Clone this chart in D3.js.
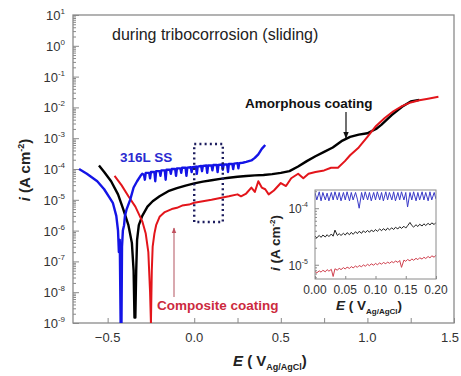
<!DOCTYPE html>
<html>
<head>
<meta charset="utf-8">
<script src="https://cdn.jsdelivr.net/npm/d3@7"></script>
<style>
  body { margin: 0; background: #fff; }
  svg { font-family: "Liberation Sans", Arial, sans-serif; }
</style>
</head>
<body>
<div id="display"></div>
<script>
const w = 461;
const h = 376;

// main plot data: [E (V), i (A cm^-2)]
const ss316 = [
    [-0.665, 1.0e-4], [-0.62, 7e-5], [-0.56, 4e-5], [-0.52, 2.2e-5], [-0.49, 1.2e-5], [-0.47, 8e-6],
    [-0.45, 3e-6], [-0.44, 1e-6], [-0.435, 2e-7], [-0.43, 5e-7], [-0.425, 1e-9], [-0.42, 1e-9],
    [-0.417, 3e-7], [-0.412, 1e-6], [-0.405, 1.5e-6], [-0.40, 3e-6], [-0.39, 5e-6], [-0.37, 1e-5],
    [-0.35, 2.5e-5], [-0.33, 4e-5], [-0.31, 6e-5], [-0.30, 7e-5], [-0.29, 6.5e-5], [-0.285, 4.5e-5],
    [-0.28, 7.5e-5], [-0.26, 7.5e-5], [-0.255, 5e-5], [-0.25, 8e-5], [-0.23, 8e-5], [-0.225, 4e-5],
    [-0.22, 8.5e-5], [-0.20, 8.5e-5], [-0.195, 6e-5], [-0.19, 9e-5], [-0.17, 9e-5], [-0.165, 4.5e-5],
    [-0.16, 9.5e-5], [-0.14, 9.5e-5], [-0.135, 7e-5], [-0.13, 1e-4], [-0.11, 1e-4], [-0.105, 6e-5],
    [-0.10, 1.05e-4], [-0.08, 1.05e-4], [-0.075, 7.5e-5], [-0.07, 1.1e-4], [-0.05, 1.1e-4], [-0.045, 6e-5],
    [-0.04, 1.1e-4], [-0.02, 1.15e-4], [-0.015, 8e-5], [-0.01, 1.15e-4], [0.01, 1.2e-4], [0.015, 7e-5],
    [0.02, 1.2e-4], [0.04, 1.25e-4], [0.045, 8.5e-5], [0.05, 1.25e-4], [0.07, 1.3e-4], [0.075, 7.5e-5],
    [0.08, 1.3e-4], [0.10, 1.3e-4], [0.105, 9e-5], [0.11, 1.35e-4], [0.13, 1.35e-4], [0.135, 8e-5],
    [0.14, 1.35e-4], [0.16, 1.4e-4], [0.165, 9.5e-5], [0.17, 1.4e-4], [0.19, 1.4e-4], [0.195, 8e-5],
    [0.20, 1.45e-4], [0.22, 1.45e-4], [0.225, 1e-4], [0.23, 1.5e-4], [0.25, 1.55e-4], [0.255, 1.05e-4],
    [0.26, 1.55e-4], [0.28, 1.6e-4], [0.3, 1.7e-4], [0.33, 1.9e-4], [0.35, 2.3e-4], [0.37, 3e-4],
    [0.39, 4.5e-4], [0.41, 6e-4]
];
const amorphous = [
    [-0.55, 1.3e-4], [-0.52, 8e-5], [-0.48, 4e-5], [-0.44, 1.5e-5], [-0.41, 5e-6], [-0.38, 1.5e-6],
    [-0.36, 4e-7], [-0.35, 5e-8], [-0.345, 1.5e-9], [-0.34, 1.5e-9], [-0.335, 5e-8], [-0.33, 5e-7],
    [-0.32, 1.5e-6], [-0.30, 3e-6], [-0.27, 6e-6], [-0.24, 9e-6], [-0.2, 1.3e-5], [-0.15, 1.9e-5],
    [-0.1, 2.4e-5], [-0.05, 2.9e-5], [0.0, 3.4e-5], [0.05, 3.9e-5], [0.1, 4.3e-5], [0.15, 4.8e-5],
    [0.2, 5.2e-5], [0.25, 5.6e-5], [0.3, 5.9e-5], [0.35, 6.2e-5], [0.4, 6.4e-5], [0.45, 6.8e-5],
    [0.5, 7.5e-5], [0.55, 8.5e-5], [0.6, 1.2e-4], [0.65, 1.8e-4], [0.7, 2.6e-4], [0.75, 3.6e-4],
    [0.8, 5e-4], [0.85, 8e-4], [0.9, 1.1e-3], [0.95, 1.3e-3], [1.0, 1.45e-3], [1.05, 2e-3],
    [1.08, 2.7e-3], [1.14, 5.6e-3], [1.2, 1.05e-2], [1.25, 1.55e-2], [1.3, 1.75e-2]
];
const composite = [
    [-0.46, 6e-5], [-0.42, 3e-5], [-0.38, 1.3e-5], [-0.34, 6e-6], [-0.30, 2e-6], [-0.28, 8e-7],
    [-0.265, 2e-7], [-0.255, 1e-8], [-0.25, 1e-9], [-0.245, 5e-8], [-0.24, 3e-7], [-0.23, 8e-7],
    [-0.22, 1.5e-6], [-0.2, 2.8e-6], [-0.17, 4e-6], [-0.13, 5e-6], [-0.1, 5.5e-6], [-0.07, 6.5e-6],
    [-0.03, 7e-6], [0.0, 8e-6], [0.05, 9e-6], [0.1, 1.0e-5], [0.15, 1.15e-5], [0.2, 1.3e-5],
    [0.25, 1.5e-5], [0.27, 1.3e-5], [0.3, 1.6e-5], [0.33, 2.5e-5], [0.35, 1.8e-5], [0.37, 4e-5],
    [0.39, 2.5e-5], [0.41, 2.2e-5], [0.43, 1.5e-5], [0.46, 2e-5], [0.5, 3.5e-5], [0.53, 2.8e-5],
    [0.56, 5e-5], [0.6, 7e-5], [0.63, 5e-5], [0.66, 7e-5], [0.7, 8e-5], [0.75, 9e-5],
    [0.79, 1.1e-4], [0.83, 1.1e-4], [0.87, 1.8e-4], [0.9, 2.8e-4], [0.95, 5e-4], [1.0, 1.1e-3],
    [1.05, 2.5e-3], [1.1, 4.5e-3], [1.15, 7.5e-3], [1.2, 1.1e-2], [1.25, 1.45e-2], [1.3, 1.7e-2],
    [1.35, 1.9e-2], [1.41, 2.2e-2]
];

// inset data (zoom of 0.00 - 0.20 V)
const insetE = [0.000, 0.003, 0.007, 0.010, 0.013, 0.017, 0.020, 0.023, 0.027, 0.030,
    0.033, 0.037, 0.040, 0.043, 0.047, 0.050, 0.053, 0.057, 0.060, 0.063,
    0.067, 0.070, 0.073, 0.077, 0.080, 0.083, 0.087, 0.090, 0.093, 0.097,
    0.100, 0.103, 0.107, 0.110, 0.113, 0.117, 0.120, 0.123, 0.127, 0.130,
    0.133, 0.137, 0.140, 0.143, 0.147, 0.150, 0.153, 0.157, 0.160, 0.163,
    0.167, 0.170, 0.173, 0.177, 0.180, 0.183, 0.187, 0.190, 0.193, 0.197, 0.200];
// i in units of 1e-4
const insetSS = [1.9, 1.4, 1.95, 1.35, 1.9, 1.4, 1.85, 1.35, 1.9, 1.4,
    1.95, 1.4, 1.9, 1.35, 1.9, 1.4, 1.95, 1.35, 1.9, 1.4,
    1.9, 1.45, 1.0, 1.9, 1.4, 1.95, 1.4, 1.9, 1.35, 1.9,
    1.4, 1.95, 1.4, 1.9, 1.35, 1.95, 1.4, 1.9, 1.4, 1.95,
    1.35, 1.9, 1.4, 1.95, 1.4, 1.9, 1.05, 1.9, 1.4, 1.95,
    1.35, 1.9, 1.4, 1.95, 1.4, 1.9, 1.35, 1.95, 1.4, 1.9, 1.45];
// i in units of 1e-5
const insetAm = [3.2, 3.0, 3.3, 3.05, 3.35, 3.1, 3.4, 3.15, 3.5, 3.2,
    4.1, 3.3, 3.55, 3.3, 3.6, 3.35, 3.7, 3.4, 3.75, 3.45,
    3.85, 3.55, 3.9, 3.6, 4.0, 3.7, 4.05, 3.75, 4.1, 3.85,
    4.2, 3.9, 4.3, 4.0, 4.35, 4.05, 4.45, 4.15, 4.5, 4.2,
    4.6, 4.3, 4.7, 4.4, 4.8, 4.45, 4.9, 5.6, 4.95, 4.65,
    5.1, 4.75, 5.2, 4.85, 5.3, 4.95, 5.4, 5.05, 5.5, 5.15, 5.6];
// i in units of 1e-5
const insetComp = [0.76, 0.72, 0.78, 0.74, 0.8, 0.75, 0.82, 0.77, 0.83, 0.62,
    0.85, 0.8, 0.87, 0.82, 0.89, 0.84, 0.91, 0.86, 0.93, 0.88,
    0.95, 0.9, 0.97, 0.92, 1.0, 0.94, 1.02, 0.96, 1.04, 0.98,
    1.06, 1.0, 1.08, 1.02, 1.1, 1.04, 1.12, 1.06, 1.14, 1.08,
    1.17, 1.1, 1.19, 0.9, 1.21, 1.15, 1.24, 1.17, 1.27, 1.2,
    1.3, 1.23, 1.33, 1.26, 1.36, 1.29, 1.4, 1.32, 1.44, 1.36, 1.48];

const yTickExp = [1, 0, -1, -2, -3, -4, -5, -6, -7, -8, -9];
const xTickLabels = [-0.5, 0.0, 0.5, 1.0, 1.5];
const insetXTicks = [0.00, 0.05, 0.10, 0.15, 0.20];
const insetYTickExp = [-4, -5];

const margin = { left: 73, right: 454, top: 15, bottom: 323 };
const inset = { left: 315, right: 436, top: 190, bottom: 279 };
const axisColor = '#8a8a8a';

const viz = d3.select('#display').append('svg')
    .attr('width', w)
    .attr('height', h);

const xScale = d3.scaleLinear().domain([-0.7, 1.5]).range([margin.left, margin.right]);
const yScale = d3.scaleLog().domain([1e-9, 10]).range([margin.bottom, margin.top]);

// clip
viz.append('defs').append('clipPath').attr('id', 'clip')
    .append('rect')
    .attr('x', margin.left).attr('y', margin.top)
    .attr('width', margin.right - margin.left).attr('height', margin.bottom - margin.top);

// ticks: y major + minor (inward)
const yAxisG = viz.append('g');
const minorY = [];
for (let e = -9; e < 1; e++) {
    for (let m = 2; m <= 9; m++) minorY.push(m * Math.pow(10, e));
}
yAxisG.call(d3.axisRight(yScale).tickValues(minorY).tickSize(3).tickFormat(''))
    .attr('transform', `translate(${margin.left},0)`);
yAxisG.selectAll('line').attr('stroke', axisColor);
yAxisG.select('.domain').remove();

const yMajorG = viz.append('g').attr('transform', `translate(${margin.left},0)`)
    .call(d3.axisRight(yScale).tickValues(yTickExp.map(e => Math.pow(10, e))).tickSize(6).tickFormat(''));
yMajorG.selectAll('line').attr('stroke', axisColor);
yMajorG.select('.domain').remove();

// y tick labels with superscripts
yTickExp.forEach(e => {
    const t = viz.append('text')
        .attr('x', 65)
        .attr('y', yScale(Math.pow(10, e)) + 5)
        .attr('text-anchor', 'end')
        .style('font-size', '13px')
        .style('fill', '#333');
    t.append('tspan').text('10');
    t.append('tspan').attr('dy', -6).style('font-size', '8px').text(String(e));
});

// x ticks
const xTickVals = d3.range(-0.5, 1.51, 0.25);
const xAxisG = viz.append('g').attr('transform', `translate(0,${margin.bottom})`)
    .call(d3.axisTop(xScale).tickValues(xTickVals).tickSize(5).tickFormat(''));
xAxisG.selectAll('line').attr('stroke', axisColor);
xAxisG.select('.domain').remove();

xTickLabels.forEach(v => {
    viz.append('text')
        .attr('x', Math.min(xScale(v), 450))
        .attr('y', 342)
        .attr('text-anchor', 'middle')
        .style('font-size', '13px')
        .style('fill', '#333')
        .text(d3.format('.1f')(v));
});

// frame
viz.append('rect')
    .attr('x', margin.left).attr('y', margin.top)
    .attr('width', margin.right - margin.left).attr('height', margin.bottom - margin.top)
    .attr('fill', 'none').attr('stroke', axisColor).attr('stroke-width', 1.3);

// curves
const line = d3.line().x(d => xScale(d[0])).y(d => yScale(d[1]));
const curves = viz.append('g').attr('clip-path', 'url(#clip)');
curves.append('path').datum(amorphous).attr('d', line)
    .attr('fill', 'none').attr('stroke', '#000').attr('stroke-width', 2.4).attr('stroke-linejoin', 'round');
curves.append('path').datum(composite).attr('d', line)
    .attr('fill', 'none').attr('stroke', '#e3151b').attr('stroke-width', 2).attr('stroke-linejoin', 'round');
curves.append('path').datum(ss316).attr('d', line)
    .attr('fill', 'none').attr('stroke', '#1414e6').attr('stroke-width', 2.4).attr('stroke-linejoin', 'round');

// dotted box
viz.append('rect')
    .attr('x', xScale(0.0)).attr('y', 144)
    .attr('width', xScale(0.165) - xScale(0.0)).attr('height', 78)
    .attr('fill', 'none').attr('stroke', '#1c1c5e').attr('stroke-width', 2.4)
    .attr('stroke-dasharray', '2,3.2');

// annotations
viz.append('text').attr('x', 112).attr('y', 40)
    .style('font-size', '16px').style('fill', '#222')
    .text('during tribocorrosion (sliding)');

viz.append('text').attr('x', 120).attr('y', 162)
    .style('font-size', '13.5px').style('font-weight', 'bold').style('fill', '#2a2ad0')
    .text('316L SS');

viz.append('text').attr('x', 245).attr('y', 108)
    .style('font-size', '13.5px').style('font-weight', 'bold').style('fill', '#111')
    .text('Amorphous coating');

viz.append('text').attr('x', 157).attr('y', 310)
    .style('font-size', '13.5px').style('font-weight', 'bold').style('fill', '#cc2a3e')
    .text('Composite coating');

const defs = viz.select('defs');
defs.append('marker').attr('id', 'arrK').attr('viewBox', '0 0 10 10')
    .attr('refX', 9).attr('refY', 5).attr('markerWidth', 6).attr('markerHeight', 6)
    .attr('orient', 'auto-start-reverse')
    .append('path').attr('d', 'M0,1L10,5L0,9z').attr('fill', '#111');
defs.append('marker').attr('id', 'arrR').attr('viewBox', '0 0 10 10')
    .attr('refX', 9).attr('refY', 5).attr('markerWidth', 5).attr('markerHeight', 5)
    .attr('orient', 'auto-start-reverse')
    .append('path').attr('d', 'M0,1L10,5L0,9z').attr('fill', '#c0505e');

viz.append('line').attr('x1', 346).attr('y1', 112).attr('x2', 346).attr('y2', 138)
    .attr('stroke', '#111').attr('stroke-width', 1.2).attr('marker-end', 'url(#arrK)');
viz.append('line').attr('x1', 174).attr('y1', 297).attr('x2', 174).attr('y2', 228)
    .attr('stroke', '#c0707a').attr('stroke-width', 1.2).attr('marker-end', 'url(#arrR)');

// axis titles
const yTitle = viz.append('text')
    .attr('transform', `translate(30,170) rotate(-90)`)
    .attr('text-anchor', 'middle')
    .style('font-size', '15px').style('font-weight', 'bold').style('fill', '#222');
yTitle.append('tspan').style('font-style', 'italic').text('i');
yTitle.append('tspan').text(' (A cm');
yTitle.append('tspan').attr('dy', -6).style('font-size', '9px').text('-2');
yTitle.append('tspan').attr('dy', 6).text(')');

const xTitle = viz.append('text')
    .attr('x', 233).attr('y', 366)
    .style('font-size', '15px').style('font-weight', 'bold').style('fill', '#222');
xTitle.append('tspan').style('font-style', 'italic').text('E');
xTitle.append('tspan').text(' ( V');
xTitle.append('tspan').attr('dy', 4).style('font-size', '9px').text('Ag/AgCl');
xTitle.append('tspan').attr('dy', -4).text(')');

// ---- inset ----
const ix = d3.scaleLinear().domain([0, 0.2]).range([inset.left, inset.right]);
const iy = d3.scaleLog().domain([5.6e-6, 2.1e-4]).range([inset.bottom, inset.top]);

viz.append('rect')
    .attr('x', inset.left - 2).attr('y', inset.top - 2)
    .attr('width', inset.right - inset.left + 4).attr('height', inset.bottom - inset.top + 4)
    .attr('fill', '#fff');

defs.append('clipPath').attr('id', 'clipInset')
    .append('rect')
    .attr('x', inset.left).attr('y', inset.top)
    .attr('width', inset.right - inset.left).attr('height', inset.bottom - inset.top);

const insetMinor = [6e-6, 7e-6, 8e-6, 9e-6, 2e-5, 3e-5, 4e-5, 5e-5, 6e-5, 7e-5, 8e-5, 9e-5, 2e-4];
const iyMinor = viz.append('g').attr('transform', `translate(${inset.left},0)`)
    .call(d3.axisRight(iy).tickValues(insetMinor).tickSize(2).tickFormat(''));
iyMinor.selectAll('line').attr('stroke', axisColor);
iyMinor.select('.domain').remove();
const iyMajor = viz.append('g').attr('transform', `translate(${inset.left},0)`)
    .call(d3.axisRight(iy).tickValues(insetYTickExp.map(e => Math.pow(10, e))).tickSize(4).tickFormat(''));
iyMajor.selectAll('line').attr('stroke', axisColor);
iyMajor.select('.domain').remove();
const ixAxis = viz.append('g').attr('transform', `translate(0,${inset.bottom})`)
    .call(d3.axisTop(ix).tickValues(insetXTicks).tickSize(3).tickFormat(''));
ixAxis.selectAll('line').attr('stroke', axisColor);
ixAxis.select('.domain').remove();

insetYTickExp.forEach(e => {
    const t = viz.append('text')
        .attr('x', 308)
        .attr('y', iy(Math.pow(10, e)) + 5)
        .attr('text-anchor', 'end')
        .style('font-size', '12px')
        .style('fill', '#333');
    t.append('tspan').text('10');
    t.append('tspan').attr('dy', -6).style('font-size', '7px').text(String(e));
});
insetXTicks.forEach(v => {
    viz.append('text')
        .attr('x', ix(v)).attr('y', 294)
        .attr('text-anchor', 'middle')
        .style('font-size', '12px').style('fill', '#333')
        .text(d3.format('.2f')(v));
});

const iLine = d3.line().x(d => ix(d[0])).y(d => iy(d[1]));
const insetG = viz.append('g').attr('clip-path', 'url(#clipInset)');
[
    { vals: insetSS, unit: 1e-4, color: '#3a3ac8' },
    { vals: insetAm, unit: 1e-5, color: '#222' },
    { vals: insetComp, unit: 1e-5, color: '#d0404e' }
].forEach(s => {
    insetG.append('path')
        .datum(insetE.map((e, k) => [e, s.vals[k] * s.unit]))
        .attr('d', iLine)
        .attr('fill', 'none').attr('stroke', s.color).attr('stroke-width', 1);
});

viz.append('rect')
    .attr('x', inset.left).attr('y', inset.top)
    .attr('width', inset.right - inset.left).attr('height', inset.bottom - inset.top)
    .attr('fill', 'none').attr('stroke', axisColor).attr('stroke-width', 1);

const iyTitle = viz.append('text')
    .attr('transform', `translate(280,243) rotate(-90)`)
    .attr('text-anchor', 'middle')
    .style('font-size', '13.5px').style('font-weight', 'bold').style('fill', '#222');
iyTitle.append('tspan').style('font-style', 'italic').text('i');
iyTitle.append('tspan').text(' (A cm');
iyTitle.append('tspan').attr('dy', -5).style('font-size', '8px').text('-2');
iyTitle.append('tspan').attr('dy', 5).text(')');

const ixTitle = viz.append('text')
    .attr('x', 336).attr('y', 310)
    .style('font-size', '13.5px').style('font-weight', 'bold').style('fill', '#222');
ixTitle.append('tspan').style('font-style', 'italic').text('E');
ixTitle.append('tspan').text(' ( V');
ixTitle.append('tspan').attr('dy', 4).style('font-size', '8px').text('Ag/AgCl');
ixTitle.append('tspan').attr('dy', -4).text(')');
</script>
</body>
</html>
